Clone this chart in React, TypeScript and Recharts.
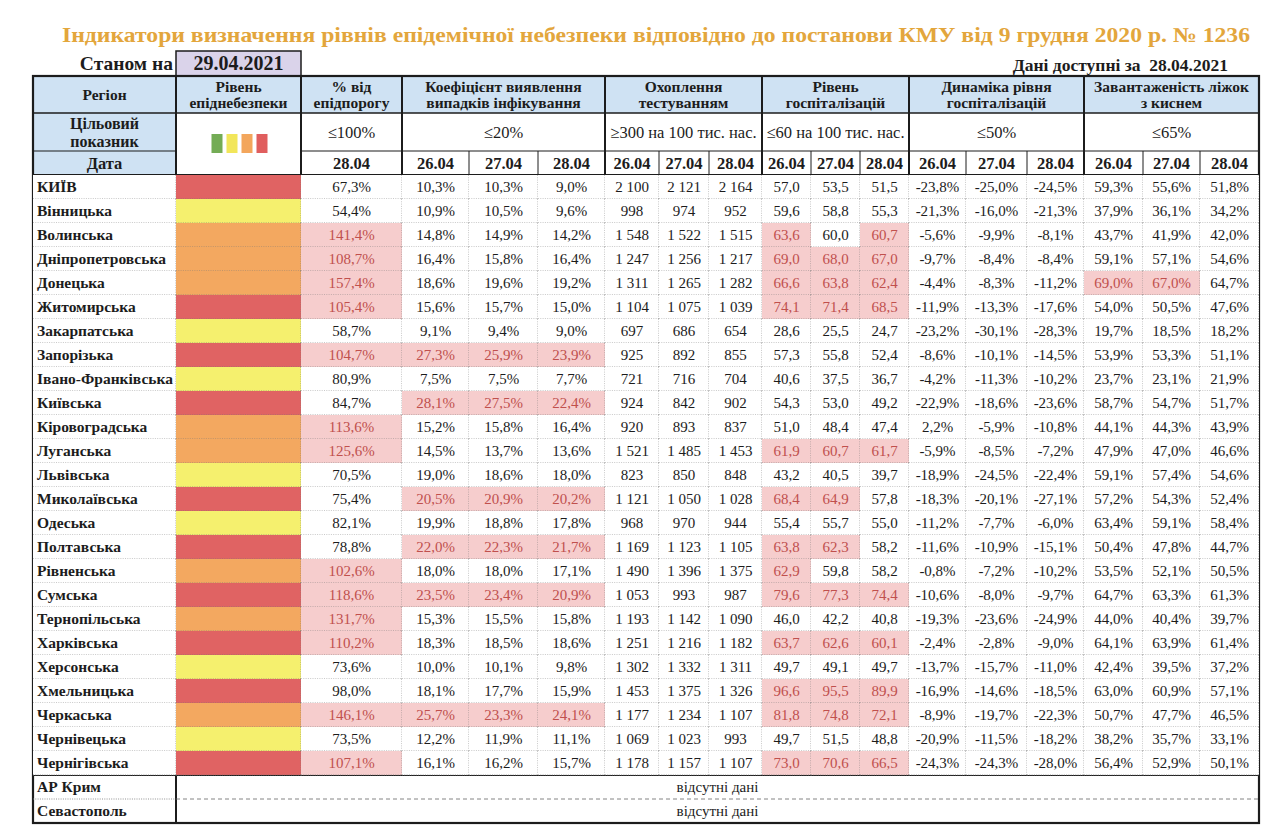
import React from 'react';
import { BarChart, Bar, XAxis, YAxis, Customized } from 'recharts';

const TITLE = 'Індикатори визначення рівнів епідемічної небезпеки відповідно до постанови КМУ від 9 грудня 2020 р. № 1236';
const AS_OF_LABEL = 'Станом на';
const AS_OF = '29.04.2021';
const DATA_FOR = 'Дані доступні за\u00a0 28.04.2021';

const REGIONS = [
    'КИЇВ', 'Вінницька', 'Волинська', 'Дніпропетровська', 'Донецька', 'Житомирська', 'Закарпатська',
    'Запорізька', 'Івано-Франківська', 'Київська', 'Кіровоградська', 'Луганська', 'Львівська',
    'Миколаївська', 'Одеська', 'Полтавська', 'Рівненська', 'Сумська', 'Тернопільська', 'Харківська',
    'Херсонська', 'Хмельницька', 'Черкаська', 'Чернівецька', 'Чернігівська',
];
// r = червоний, o = помаранчевий, y = жовтий
const LEVELS = [
    'r', 'y', 'o', 'o', 'o', 'r', 'y', 'r', 'y', 'r', 'o', 'o', 'y',
    'r', 'y', 'r', 'o', 'r', 'o', 'r', 'y', 'r', 'o', 'y', 'r',
];
const PCT = [67.3, 54.4, 141.4, 108.7, 157.4, 105.4, 58.7, 104.7, 80.9, 84.7, 113.6, 125.6, 70.5, 75.4, 82.1, 78.8, 102.6, 118.6, 131.7, 110.2, 73.6, 98.0, 146.1, 73.5, 107.1];
const COEF_26 = [10.3, 10.9, 14.8, 16.4, 18.6, 15.6, 9.1, 27.3, 7.5, 28.1, 15.2, 14.5, 19.0, 20.5, 19.9, 22.0, 18.0, 23.5, 15.3, 18.3, 10.0, 18.1, 25.7, 12.2, 16.1];
const COEF_27 = [10.3, 10.5, 14.9, 15.8, 19.6, 15.7, 9.4, 25.9, 7.5, 27.5, 15.8, 13.7, 18.6, 20.9, 18.8, 22.3, 18.0, 23.4, 15.5, 18.5, 10.1, 17.7, 23.3, 11.9, 16.2];
const COEF_28 = [9.0, 9.6, 14.2, 16.4, 19.2, 15.0, 9.0, 23.9, 7.7, 22.4, 16.4, 13.6, 18.0, 20.2, 17.8, 21.7, 17.1, 20.9, 15.8, 18.6, 9.8, 15.9, 24.1, 11.1, 15.7];
const TEST_26 = [2100, 998, 1548, 1247, 1311, 1104, 697, 925, 721, 924, 920, 1521, 823, 1121, 968, 1169, 1490, 1053, 1193, 1251, 1302, 1453, 1177, 1069, 1178];
const TEST_27 = [2121, 974, 1522, 1256, 1265, 1075, 686, 892, 716, 842, 893, 1485, 850, 1050, 970, 1123, 1396, 993, 1142, 1216, 1332, 1375, 1234, 1023, 1157];
const TEST_28 = [2164, 952, 1515, 1217, 1282, 1039, 654, 855, 704, 902, 837, 1453, 848, 1028, 944, 1105, 1375, 987, 1090, 1182, 1311, 1326, 1107, 993, 1107];
const HOSP_26 = [57.0, 59.6, 63.6, 69.0, 66.6, 74.1, 28.6, 57.3, 40.6, 54.3, 51.0, 61.9, 43.2, 68.4, 55.4, 63.8, 62.9, 79.6, 46.0, 63.7, 49.7, 96.6, 81.8, 49.7, 73.0];
const HOSP_27 = [53.5, 58.8, 60.0, 68.0, 63.8, 71.4, 25.5, 55.8, 37.5, 53.0, 48.4, 60.7, 40.5, 64.9, 55.7, 62.3, 59.8, 77.3, 42.2, 62.6, 49.1, 95.5, 74.8, 51.5, 70.6];
const HOSP_28 = [51.5, 55.3, 60.7, 67.0, 62.4, 68.5, 24.7, 52.4, 36.7, 49.2, 47.4, 61.7, 39.7, 57.8, 55.0, 58.2, 58.2, 74.4, 40.8, 60.1, 49.7, 89.9, 72.1, 48.8, 66.5];
const DYN_26 = [-23.8, -21.3, -5.6, -9.7, -4.4, -11.9, -23.2, -8.6, -4.2, -22.9, 2.2, -5.9, -18.9, -18.3, -11.2, -11.6, -0.8, -10.6, -19.3, -2.4, -13.7, -16.9, -8.9, -20.9, -24.3];
const DYN_27 = [-25.0, -16.0, -9.9, -8.4, -8.3, -13.3, -30.1, -10.1, -11.3, -18.6, -5.9, -8.5, -24.5, -20.1, -7.7, -10.9, -7.2, -8.0, -23.6, -2.8, -15.7, -14.6, -19.7, -11.5, -24.3];
const DYN_28 = [-24.5, -21.3, -8.1, -8.4, -11.2, -17.6, -28.3, -14.5, -10.2, -23.6, -10.8, -7.2, -22.4, -27.1, -6.0, -15.1, -10.2, -9.7, -24.9, -9.0, -11.0, -18.5, -22.3, -18.2, -28.0];
const BEDS_26 = [59.3, 37.9, 43.7, 59.1, 69.0, 54.0, 19.7, 53.9, 23.7, 58.7, 44.1, 47.9, 59.1, 57.2, 63.4, 50.4, 53.5, 64.7, 44.0, 64.1, 42.4, 63.0, 50.7, 38.2, 56.4];
const BEDS_27 = [55.6, 36.1, 41.9, 57.1, 67.0, 50.5, 18.5, 53.3, 23.1, 54.7, 44.3, 47.0, 57.4, 54.3, 59.1, 47.8, 52.1, 63.3, 40.4, 63.9, 39.5, 60.9, 47.7, 35.7, 52.9];
const BEDS_28 = [51.8, 34.2, 42.0, 54.6, 64.7, 47.6, 18.2, 51.1, 21.9, 51.7, 43.9, 46.6, 54.6, 52.4, 58.4, 44.7, 50.5, 61.3, 39.7, 61.4, 37.2, 57.1, 46.5, 33.1, 50.1];

const MISSING_REGIONS = ['АР Крим', 'Севастополь'];
const MISSING_TEXT = 'відсутні дані';

const GROUP_TITLES = [
    ['Регіон'], ['Рівень', 'епіднебезпеки'], ['% від', 'епідпорогу'],
    ['Коефіцієнт виявлення', 'випадків інфікування'], ['Охоплення', 'тестуванням'],
    ['Рівень', 'госпіталізацій'], ['Динаміка рівня', 'госпіталізацій'], ['Завантаженість ліжок', 'з киснем'],
];
const TARGETS = [['Цільовий', 'показник'], [], ['≤100%'], ['≤20%'], ['≥300 на 100 тис. нас.'], ['≤60 на 100 тис. нас.'], ['≤50%'], ['≤65%']];
const DATE_LABEL = 'Дата';
const PCT_DATES = ['28.04'];
const DATES = ['26.04', '27.04', '28.04'];

// ---- layout ----
const W = 1279;
const H = 831;
const LEFT = 33;
const COL_W = [143, 125, 101, 67, 69, 67, 54, 50, 53, 49, 49, 49, 57, 61, 57, 59, 57, 59];
const COL_X = COL_W.map((_, i) => LEFT + COL_W.slice(0, i).reduce((a, b) => a + b, 0));
const TABLE_W = COL_W.reduce((a, b) => a + b, 0);
const TABLE_R = LEFT + TABLE_W;
const GROUP_SPANS = [[0, 0], [1, 1], [2, 2], [3, 5], [6, 8], [9, 11], [12, 14], [15, 17]];
const HEAD_Y = [76, 113, 151, 175];
const ROW_H = 24;
const BODY_END = HEAD_Y[3] + REGIONS.length * ROW_H;
const TABLE_B = BODY_END + MISSING_REGIONS.length * ROW_H;

const FONT = "'Liberation Serif', 'Times New Roman', serif";
const INK = '#1c1c1c';
const HEAD_BG = '#cfe2f3';
const LEVEL_FILL: Record<string, string> = { r: '#e06363', o: '#f3a860', y: '#f5f06e' };
const SWATCHES = ['#74ac55', '#f2e65a', '#f3a65c', '#e05e5e'];
const HOT_BG = '#f6cdcd';
const HOT_INK = '#c0504d';

const fmt1 = (v: number) => v.toFixed(1).replace('.', ',');
const fmtPct = (v: number) => fmt1(v) + '%';
const fmtInt = (v: number) => (v >= 1000 ? `${Math.floor(v / 1000)} ${String(v % 1000).padStart(3, '0')}` : String(v));

const VALUE_COLS = [
    { values: PCT, fmt: fmtPct, bad: (v: number) => v > 100 },
    { values: COEF_26, fmt: fmtPct, bad: (v: number) => v > 20 },
    { values: COEF_27, fmt: fmtPct, bad: (v: number) => v > 20 },
    { values: COEF_28, fmt: fmtPct, bad: (v: number) => v > 20 },
    { values: TEST_26, fmt: fmtInt, bad: (v: number) => v < 300 },
    { values: TEST_27, fmt: fmtInt, bad: (v: number) => v < 300 },
    { values: TEST_28, fmt: fmtInt, bad: (v: number) => v < 300 },
    { values: HOSP_26, fmt: fmt1, bad: (v: number) => v > 60 },
    { values: HOSP_27, fmt: fmt1, bad: (v: number) => v > 60 },
    { values: HOSP_28, fmt: fmt1, bad: (v: number) => v > 60 },
    { values: DYN_26, fmt: fmtPct, bad: (v: number) => v > 50 },
    { values: DYN_27, fmt: fmtPct, bad: (v: number) => v > 50 },
    { values: DYN_28, fmt: fmtPct, bad: (v: number) => v > 50 },
    { values: BEDS_26, fmt: fmtPct, bad: (v: number) => v > 65 },
    { values: BEDS_27, fmt: fmtPct, bad: (v: number) => v > 65 },
    { values: BEDS_28, fmt: fmtPct, bad: (v: number) => v > 65 },
];

const rows = [
    ...REGIONS.map((name, i) => ({ name, idx: i, missing: false })),
    ...MISSING_REGIONS.map((name, i) => ({ name, idx: i, missing: true })),
];

// every column is a stacked segment as wide as the column
const WIDTH_KEYS = COL_W.map((w) => (_: unknown) => w);

const DOT = { stroke: '#777', strokeWidth: 0.8, strokeDasharray: '1 1.3' };

const txt = (size: number, bold = false, fill = INK) => ({
    fontFamily: FONT,
    fontSize: size,
    fontWeight: bold ? 700 : 400,
    fill,
});

const makeCell = (col: number) => (p: any) => {
    const { x, y, width, height, payload } = p;
    const cy = y + height / 2;
    const right = x + width;
    const bottom = y + height;
    if (payload.missing) {
        const first = payload.idx === 0;
        if (col === 0) {
            return (
                <g>
                    <text x={x + 4} y={cy} dy="0.35em" {...txt(15.5, true)}>{payload.name}</text>
                    {first && <line x1={x} x2={right} y1={bottom} y2={bottom} {...DOT} />}
                </g>
            );
        }
        if (col === 1) {
            return (
                <g>
                    <text x={(x + TABLE_R) / 2} y={cy} dy="0.35em" textAnchor="middle" {...txt(15)}>{MISSING_TEXT}</text>
                    {first && <line x1={x} x2={TABLE_R} y1={bottom} y2={bottom} stroke="#666" strokeWidth={0.8} strokeDasharray="4 3" />}
                </g>
            );
        }
        return <g />;
    }
    const i = payload.idx;
    let fill = '#fff';
    let body: React.ReactNode = null;
    if (col === 0) {
        body = <text x={x + 4} y={cy} dy="0.35em" {...txt(15.5, true)}>{payload.name}</text>;
    } else if (col === 1) {
        fill = LEVEL_FILL[LEVELS[i]];
    } else {
        const vc = VALUE_COLS[col - 2];
        const v = vc.values[i];
        const hot = vc.bad(v);
        if (hot) fill = HOT_BG;
        body = (
            <text x={x + width / 2} y={cy} dy="0.35em" textAnchor="middle" {...txt(15, false, hot ? HOT_INK : INK)}>
                {vc.fmt(v)}
            </text>
        );
    }
    return (
        <g>
            <rect x={x} y={y} width={width} height={height} fill={fill} />
            <line x1={x} x2={right} y1={bottom} y2={bottom} {...DOT} />
            <line x1={right} x2={right} y1={y} y2={bottom} {...DOT} />
            {body}
        </g>
    );
};

const Lines = ({ x, y, lines, size, bold, gap = 16 }: any) => (
    <text x={x} y={y - ((lines.length - 1) * gap) / 2} textAnchor="middle" {...txt(size, bold)}>
        {lines.map((l: string, k: number) => (
            <tspan key={k} x={x} dy={k === 0 ? '0.35em' : gap}>{l}</tspan>
        ))}
    </text>
);

const Header = () => {
    const [t0, t1, t2, t3] = HEAD_Y;
    const parts: React.ReactNode[] = [];
    GROUP_SPANS.forEach(([a, b], g) => {
        const x0 = COL_X[a];
        const x1 = COL_X[b] + COL_W[b];
        const cx = (x0 + x1) / 2;
        parts.push(<rect key={`h1${g}`} x={x0} y={t0} width={x1 - x0} height={t1 - t0} fill={HEAD_BG} />);
        parts.push(<Lines key={`t1${g}`} x={cx} y={(t0 + t1) / 2} lines={GROUP_TITLES[g]} size={15.5} bold gap={16} />);
        if (g === 0) {
            parts.push(<rect key="h2b" x={x0} y={t1} width={x1 - x0} height={t3 - t1} fill={HEAD_BG} />);
            parts.push(<Lines key="t2" x={cx} y={(t1 + t2) / 2} lines={TARGETS[g]} size={16} bold gap={18} />);
            parts.push(<Lines key="t3" x={cx} y={(t2 + t3) / 2} lines={[DATE_LABEL]} size={16.5} bold />);
            parts.push(<line key="l3" x1={x0} x2={x1} y1={t2} y2={t2} stroke={INK} strokeWidth={1.2} />);
        } else if (g === 1) {
            SWATCHES.forEach((c, k) => {
                parts.push(<rect key={`sw${k}`} x={cx - 27 + k * 15} y={(t1 + t3) / 2 - 10} width={11} height={19} fill={c} />);
            });
        } else {
            parts.push(<Lines key={`t2${g}`} x={cx} y={(t1 + t2) / 2} lines={TARGETS[g]} size={16.5} />);
            parts.push(<line key={`l3${g}`} x1={x0} x2={x1} y1={t2} y2={t2} stroke={INK} strokeWidth={1.2} />);
            const dates = g === 2 ? PCT_DATES : DATES;
            dates.forEach((d, k) => {
                const c = a + k;
                parts.push(<Lines key={`d${g}${k}`} x={COL_X[c] + COL_W[c] / 2} y={(t2 + t3) / 2} lines={[d]} size={16.5} bold />);
                if (k > 0) parts.push(<line key={`dv${g}${k}`} x1={COL_X[c]} x2={COL_X[c]} y1={t2} y2={t3} stroke={INK} strokeWidth={1} />);
            });
        }
    });
    const thick = [1, 2, 3, 6, 9, 12, 15];
    return (
        <g>
            <text x={62} y={35} dy="0.35em" textLength={1188} lengthAdjust="spacingAndGlyphs" {...txt(21, true, '#e3a63c')}>{TITLE}</text>
            <text x={173} y={63} dy="0.35em" textAnchor="end" {...txt(19.5, true)}>{AS_OF_LABEL}</text>
            <rect x={COL_X[1]} y={51} width={COL_W[1]} height={t0 - 51} fill="#dad3ea" stroke={INK} strokeWidth={1.5} />
            <text x={COL_X[1] + COL_W[1] / 2} y={63} dy="0.35em" textAnchor="middle" {...txt(20, true)}>{AS_OF}</text>
            <text x={1228} y={65} dy="0.35em" textAnchor="end" {...txt(17.5, true)}>{DATA_FOR}</text>
            {parts}
            <line x1={LEFT} x2={TABLE_R} y1={t1} y2={t1} stroke={INK} strokeWidth={1.3} />
            <line x1={LEFT} x2={TABLE_R} y1={t3} y2={t3} stroke={INK} strokeWidth={2} />
            <line x1={LEFT} x2={TABLE_R} y1={BODY_END} y2={BODY_END} stroke={INK} strokeWidth={2} />
            {thick.map((c) => (
                <line key={`v${c}`} x1={COL_X[c]} x2={COL_X[c]} y1={t0} y2={c === 1 ? TABLE_B : BODY_END} stroke={INK} strokeWidth={2} />
            ))}
            <rect x={LEFT} y={t0} width={TABLE_W} height={TABLE_B - t0} fill="none" stroke={INK} strokeWidth={2.2} />
        </g>
    );
};

export default function App() {
    return (
        <div style={{ position: 'absolute', left: 0, top: 0, background: '#fff' }}>
            <BarChart
                width={W}
                height={H}
                data={rows}
                layout="vertical"
                barCategoryGap={0}
                barGap={0}
                margin={{ top: HEAD_Y[3], right: W - TABLE_R, bottom: H - TABLE_B, left: LEFT }}
            >
                <XAxis type="number" domain={[0, TABLE_W]} allowDataOverflow hide />
                <YAxis type="category" dataKey="name" hide />
                {WIDTH_KEYS.map((key, c) => (
                    <Bar key={c} dataKey={key} stackId="table" shape={makeCell(c)} isAnimationActive={false} />
                ))}
                <Customized component={Header} />
            </BarChart>
        </div>
    );
}
